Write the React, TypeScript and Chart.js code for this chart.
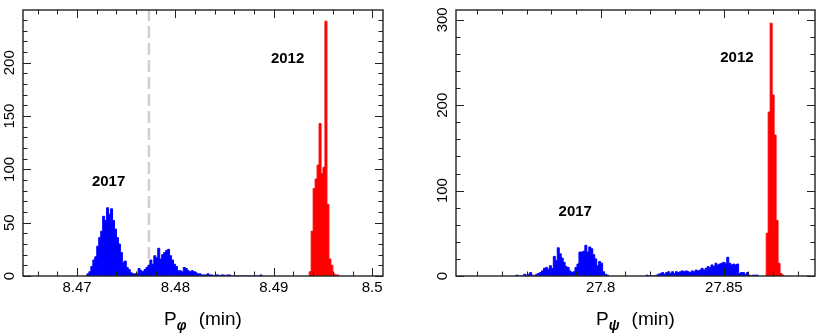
import React, { useEffect, useRef } from "react";
import { Chart, registerables } from "chart.js";

Chart.register(...registerables);

const FONT = "'Liberation Sans', Arial, Helvetica, sans-serif";

// ---------- Left panel: P_phi ----------
const phiBinWidth = 0.0002;
const phi2017Start = 8.471;
const phi2017Counts = [
  2, 4, 9, 15, 18, 28, 36, 42, 56, 52, 64, 58, 63, 52, 44, 36, 30, 22, 13, 14,
  8, 6, 3, 2, 2, 2, 7, 5, 4, 6, 8, 10, 15, 11, 19, 17, 26, 16, 20, 22,
  24, 25, 19, 15, 11, 9, 5, 5, 4, 8, 7, 5, 4, 5, 4, 3, 2, 2, 1, 1,
  1, 2, 1, 1, 0, 1, 1, 0, 1, 1, 0, 1, 1, 0, 0, 0, 0, 0, 0, 0,
  0, 0, 0, 0, 0, 0, 0, 0, 1,
];
const phi2012Start = 8.4936;
const phi2012Counts = [4, 42, 82, 91, 104, 143, 96, 102, 239, 67, 16, 10, 2, 1, 1];
const phiDivider = 8.4773;
const phiXMin = 8.4645;
const phiXMax = 8.5011;
const phiYMax = 249.5;
const phiXStep = 0.002;
const phiYStep = 10;
const phiXTickLabels = [8.47, 8.48, 8.49, 8.5];
const phiYTickLabels = [0, 50, 100, 150, 200];
const phiYearLabels = [
  { text: "2017", x: 8.4732, y: 88 },
  { text: "2012", x: 8.4914, y: 204 },
];

// ---------- Right panel: P_psi ----------
const psiBinWidth = 0.0008;
const psi2017aStart = 27.7656;
const psi2017aCounts = [
  1, 0, 0, 0, 2, 1, 2, 4, 1, 0, 2, 3, 4, 6, 9, 10, 8, 12, 9, 23,
  18, 33, 26, 21, 16, 11, 10, 6, 4, 5, 10, 14, 28, 28, 29, 36, 28, 34, 32, 25,
  20, 12, 17, 15, 5, 2, 1,
];
const psi2017bStart = 27.8184;
const psi2017bCounts = [
  1, 0, 0, 0, 0, 1, 2, 3, 4, 2, 4, 5, 3, 5, 3, 5, 4, 5, 6, 5,
  6, 5, 4, 6, 5, 7, 6, 7, 9, 7, 9, 11, 10, 13, 11, 15, 13, 14, 15, 16,
  15, 22, 15, 13, 14, 13, 14, 3, 4, 4, 2, 4, 1, 0, 1, 1, 1,
];
const psi2012Start = 27.8672;
const psi2012Counts = [50, 192, 296, 212, 165, 65, 15, 3, 1];
const psiXMin = 27.7413;
const psiXMax = 27.887;
const psiYMax = 311.5;
const psiXStep = 0.01;
const psiYStep = 20;
const psiXTickLabels = [27.8, 27.85];
const psiYTickLabels = [0, 100, 200, 300];
const psiYearLabels = [
  { text: "2017", x: 27.7897, y: 75 },
  { text: "2012", x: 27.8553, y: 255 },
];

const BLUE = "#0000ff";
const RED = "#ff0000";

function steps(start: number, width: number, counts: number[]) {
  const pts: { x: number; y: number }[] = [{ x: start, y: 0 }];
  counts.forEach((c, i) => pts.push({ x: start + i * width, y: c }));
  pts.push({ x: start + counts.length * width, y: 0 });
  return pts;
}

function histDataset(pts: { x: number; y: number }[], color: string) {
  return {
    data: pts,
    stepped: "before" as const,
    borderColor: color,
    backgroundColor: color,
    borderWidth: 1,
    fill: "origin",
    pointRadius: 0,
    order: 1,
  };
}

function inList(v: number, list: number[]) {
  return list.some((l) => Math.abs(l - v) < 1e-7);
}

type PanelCfg = {
  left: number;
  width: number;
  yAxisWidth: number;
  padRight: number;
  datasets: any[];
  xMin: number;
  xMax: number;
  yMax: number;
  xStep: number;
  yStep: number;
  xLabels: number[];
  yLabels: number[];
  years: { text: string; x: number; y: number }[];
  symbol: string;
};

function decorPlugin(cfg: PanelCfg) {
  return {
    id: "panelDecor",
    afterDatasetsDraw(chart: any) {
      const { ctx, chartArea: a, scales } = chart;
      const xs = scales.x;
      const ys = scales.y;
      ctx.save();
      ctx.strokeStyle = "#222";
      ctx.lineWidth = 1;
      ctx.beginPath();
      for (const t of xs.ticks) {
        if (t.value < cfg.xMin || t.value > cfg.xMax) continue;
        const px = Math.round(xs.getPixelForValue(t.value)) + 0.5;
        const len = inList(t.value, cfg.xLabels) ? 8 : 4.5;
        ctx.moveTo(px, a.bottom);
        ctx.lineTo(px, a.bottom - len);
        ctx.moveTo(px, a.top);
        ctx.lineTo(px, a.top + len);
      }
      for (const t of ys.ticks) {
        if (t.value < 0 || t.value > cfg.yMax) continue;
        const py = Math.round(ys.getPixelForValue(t.value)) + 0.5;
        const len = inList(t.value, cfg.yLabels) ? 8 : 4.5;
        ctx.moveTo(a.left, py);
        ctx.lineTo(a.left + len, py);
        ctx.moveTo(a.right, py);
        ctx.lineTo(a.right - len, py);
      }
      ctx.stroke();
      ctx.lineWidth = 1.4;
      ctx.strokeRect(a.left, a.top, a.right - a.left, a.bottom - a.top);

      ctx.fillStyle = "#000";
      ctx.font = `bold 15px ${FONT}`;
      ctx.textAlign = "center";
      ctx.textBaseline = "middle";
      for (const l of cfg.years) {
        ctx.fillText(l.text, xs.getPixelForValue(l.x), ys.getPixelForValue(l.y));
      }
      ctx.restore();
    },
    afterDraw(chart: any) {
      const { ctx, chartArea: a } = chart;
      const mainFont = `19px ${FONT}`;
      const subFont = `bold italic 14px ${FONT}`;
      ctx.save();
      ctx.fillStyle = "#000";
      ctx.textBaseline = "alphabetic";
      ctx.textAlign = "left";
      ctx.font = mainFont;
      const wP = ctx.measureText("P").width;
      const rest = "(min)";
      const wRest = ctx.measureText(rest).width;
      ctx.font = subFont;
      const wSub = ctx.measureText(cfg.symbol).width;
      const gap = 12;
      const total = wP + wSub + gap + wRest;
      let x = (a.left + a.right) / 2 - total / 2;
      const base = 325;
      ctx.font = mainFont;
      ctx.fillText("P", x, base);
      x += wP;
      ctx.font = subFont;
      ctx.fillText(cfg.symbol, x, base + 5);
      x += wSub + gap;
      ctx.font = mainFont;
      ctx.fillText(rest, x, base);
      ctx.restore();
    },
  };
}

function buildConfig(cfg: PanelCfg): any {
  return {
    type: "line",
    data: { datasets: cfg.datasets },
    plugins: [decorPlugin(cfg)],
    options: {
      animation: false,
      responsive: false,
      maintainAspectRatio: false,
      layout: { padding: { top: 5, right: cfg.padRight, left: 0, bottom: 0 } },
      plugins: { legend: { display: false }, tooltip: { enabled: false }, title: { display: false } },
      scales: {
        x: {
          type: "linear",
          min: cfg.xMin,
          max: cfg.xMax,
          border: { display: false },
          grid: { display: false, drawTicks: false },
          afterFit: (s: any) => {
            s.height = 60;
          },
          ticks: {
            stepSize: cfg.xStep,
            maxTicksLimit: 1000,
            includeBounds: false,
            autoSkip: false,
            maxRotation: 0,
            minRotation: 0,
            padding: 3,
            color: "#000",
            font: { family: FONT, size: 15 },
            callback: (v: number) => (inList(v, cfg.xLabels) ? String(Math.round(v * 100) / 100) : ""),
          },
        },
        y: {
          type: "linear",
          min: 0,
          max: cfg.yMax,
          border: { display: false },
          grid: { display: false, drawTicks: false },
          afterFit: (s: any) => {
            s.width = cfg.yAxisWidth;
          },
          ticks: {
            stepSize: cfg.yStep,
            maxTicksLimit: 1000,
            includeBounds: false,
            autoSkip: false,
            minRotation: 90,
            maxRotation: 90,
            crossAlign: "center",
            padding: 1,
            color: "#000",
            font: { family: FONT, size: 15 },
            callback: (v: number) => (inList(v, cfg.yLabels) ? String(v) : ""),
          },
        },
      },
    },
  };
}

const leftCfg: PanelCfg = {
  left: 0,
  width: 408,
  yAxisWidth: 23,
  padRight: 25,
  datasets: [
    {
      data: [
        { x: phiDivider, y: 0 },
        { x: phiDivider, y: phiYMax },
      ],
      borderColor: "#d0d0d0",
      borderWidth: 2.5,
      borderDash: [12, 5],
      pointRadius: 0,
      fill: false,
      order: 2,
    },
    histDataset(steps(phi2017Start, phiBinWidth, phi2017Counts), BLUE),
    histDataset(steps(phi2012Start, phiBinWidth, phi2012Counts), RED),
  ],
  xMin: phiXMin,
  xMax: phiXMax,
  yMax: phiYMax,
  xStep: phiXStep,
  yStep: phiYStep,
  xLabels: phiXTickLabels,
  yLabels: phiYTickLabels,
  years: phiYearLabels,
  symbol: "\u03C6",
};

const rightCfg: PanelCfg = {
  left: 408,
  width: 409,
  yAxisWidth: 48,
  padRight: 2,
  datasets: [
    histDataset(steps(psi2017aStart, psiBinWidth, psi2017aCounts), BLUE),
    histDataset(steps(psi2017bStart, psiBinWidth, psi2017bCounts), BLUE),
    histDataset(steps(psi2012Start, psiBinWidth, psi2012Counts), RED),
  ],
  xMin: psiXMin,
  xMax: psiXMax,
  yMax: psiYMax,
  xStep: psiXStep,
  yStep: psiYStep,
  xLabels: psiXTickLabels,
  yLabels: psiYTickLabels,
  years: psiYearLabels,
  symbol: "\u03C8",
};

function Panel({ cfg }: { cfg: PanelCfg }) {
  const ref = useRef<HTMLCanvasElement>(null);
  useEffect(() => {
    const chart = new Chart(ref.current as HTMLCanvasElement, buildConfig(cfg));
    return () => chart.destroy();
  }, [cfg]);
  return (
    <canvas
      ref={ref}
      width={cfg.width}
      height={336}
      style={{ position: "absolute", left: cfg.left, top: 0, width: cfg.width, height: 336 }}
    />
  );
}

export default function App() {
  return (
    <div style={{ position: "fixed", left: 0, top: 0, width: 817, height: 336, background: "#fff", overflow: "hidden" }}>
      <Panel cfg={leftCfg} />
      <Panel cfg={rightCfg} />
    </div>
  );
}
